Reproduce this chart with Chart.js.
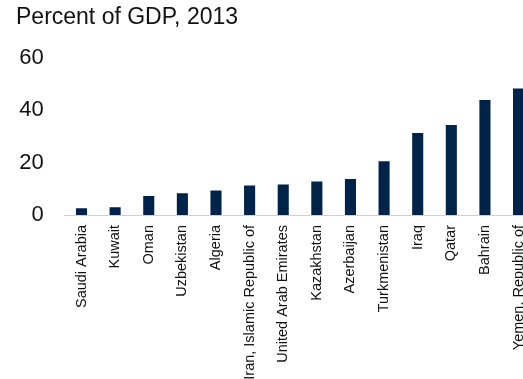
<!DOCTYPE html>
<html>
<head>
<meta charset="utf-8">
<script src="https://cdn.jsdelivr.net/npm/chart.js@4"></script>
<style>
  html, body { margin: 0; padding: 0; background: #fff; overflow: hidden; }
</style>
</head>
<body>
<canvas id="chart" width="546" height="379"></canvas>
<script>
const countries = ['Saudi Arabia', 'Kuwait', 'Oman', 'Uzbekistan', 'Algeria', 'Iran, Islamic Republic of',
  'United Arab Emirates', 'Kazakhstan', 'Azerbaijan', 'Turkmenistan', 'Iraq', 'Qatar', 'Bahrain', 'Yemen, Republic of']
const percentOfGdp = [2.6, 3.0, 7.2, 8.3, 9.3, 11.2, 11.6, 12.8, 13.7, 20.5, 31.3, 34.3, 43.8, 48.2]
const yTicks = [0, 20, 40, 60]
const titleText = 'Percent of GDP, 2013'

const fontFamily = '"Liberation Sans", Arial, Helvetica, sans-serif'

const ctx = document.getElementById('chart').getContext('2d')
new Chart(ctx, {
  type: 'bar',
  data: {
    labels: countries,
    datasets: [{
      data: percentOfGdp,
      backgroundColor: '#002349',
      borderWidth: 0,
      barPercentage: 0.33,
      categoryPercentage: 1
    }]
  },
  options: {
    responsive: false,
    animation: false,
    layout: { padding: { left: 16, right: 1, top: 0, bottom: 0 } },
    plugins: {
      legend: { display: false },
      tooltip: { enabled: false },
      title: {
        display: true,
        text: titleText,
        align: 'start',
        color: '#111',
        font: { family: fontFamily, size: 23, weight: 'normal' },
        padding: { top: 4, bottom: 26 }
      }
    },
    scales: {
      x: {
        grid: { display: false, drawTicks: false },
        border: { display: true, color: '#d0d0d0', width: 1 },
        ticks: {
          autoSkip: false,
          minRotation: 90,
          maxRotation: 90,
          padding: 10,
          color: '#111',
          font: { family: fontFamily, size: 14.5 }
        },
        afterFit: scale => { scale.height = 164 }
      },
      y: {
        min: yTicks[0],
        max: yTicks[yTicks.length - 1],
        grid: { display: false, drawTicks: false },
        border: { display: false },
        afterBuildTicks: scale => { scale.ticks = yTicks.map(v => ({ value: v })) },
        ticks: {
          padding: 21,
          color: '#111',
          font: { family: fontFamily, size: 22 }
        },
        afterFit: scale => { scale.width = 48.7 }
      }
    }
  }
})
</script>
</body>
</html>
